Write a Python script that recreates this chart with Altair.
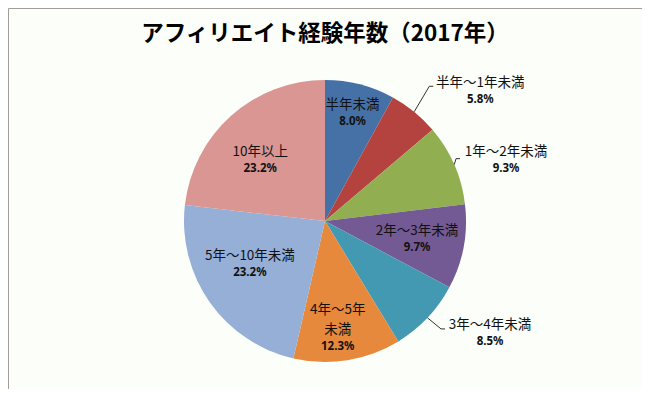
import altair as alt
import pandas as pd

# ---- data ----
CATEGORIES = ["半年未満", "半年～1年未満", "1年～2年未満", "2年～3年未満",
              "3年～4年未満", "4年～5年未満", "5年～10年未満", "10年以上"]
SHARES = [8.0, 5.8, 9.3, 9.7, 8.5, 12.3, 23.2, 23.2]
TITLE = "アフィリエイト経験年数（2017年）"

# ---- style / layout ----
COLORS = ["#4571a6", "#b4433f", "#91ae50", "#745a94", "#4399b1",
          "#e6893d", "#95afd7", "#d99693"]
LABEL_TEXT = ["半年未満", "半年～1年未満", "1年～2年未満", "2年～3年未満",
              "3年～4年未満", "4年～5年|未満", "5年～10年未満", "10年以上"]
LABEL_R = [111, 202, 191, 94, 200, 118, 87, 89]
LABEL_SHIFT = [0, 11, 5, 1, -9, 3, 5, -5]
LEADER = [0, 1, 1, 0, 1, 0, 0, 0]
LEADER_DX = [0, -51, -50, 0, -49, 0, 0, 0]
LEADER_DY = [0, -5.5, -1.5, 0, -5, 0, 0, 0]

W, H = 634, 381
CX, CY, R = 317, 213, 141

df = pd.DataFrame({
    "cat": CATEGORIES,
    "value": SHARES,
    "order": list(range(len(CATEGORIES))),
    "label": LABEL_TEXT,
    "lr": LABEL_R,
    "shift": LABEL_SHIFT,
    "leader": LEADER,
    "ldx": LEADER_DX,
    "ldy": LEADER_DY,
})

color = alt.Color("cat:N", scale=alt.Scale(domain=CATEGORIES, range=COLORS), legend=None)

pie = alt.Chart(df).mark_arc(radius=R, stroke=None).encode(
    theta=alt.Theta("value:Q", stack=True),
    order=alt.Order("order:Q"),
    color=color,
    x=alt.value(CX),
    y=alt.value(CY),
)

base = alt.Chart(df).transform_window(
    cum="sum(value)", sort=[alt.SortField("order")], frame=[None, 0]
).transform_joinaggregate(
    total="sum(value)"
).transform_calculate(
    mid="(datum.cum - datum.value/2)/datum.total*2*PI",
).transform_calculate(
    a="datum.mid + datum.shift*PI/180",
    parts="split(datum.label, '|')",
    pct="format(datum.value, '.1f') + '%'",
).transform_calculate(
    lx=f"{CX} + datum.lr*sin(datum.a)",
    ly=f"{CY} - datum.lr*cos(datum.a)",
    nl="length(datum.parts)",
    l1="datum.parts[0]",
    l2="length(datum.parts) > 1 ? datum.parts[1] : ''",
).transform_calculate(
    y1="datum.ly - 8.5 - 20*(datum.nl - 1)",
    y2="datum.ly - 8.5",
    yp="datum.ly + 8.5",
    sx=f"{CX} + {R}*sin(datum.mid)",
    sy=f"{CY} - {R}*cos(datum.mid)",
    ex="datum.lx + datum.ldx",
    ey="datum.ly + datum.ldy",
).transform_calculate(
    fx="datum.ex + 4",
)

lab_font = "Noto Sans CJK JP"
line1 = base.mark_text(font=lab_font, fontSize=13.5, color="#111111",
                       baseline="middle", align="center").encode(
    x=alt.X("lx:Q", scale=None), y=alt.Y("y1:Q", scale=None), text="l1:N")
line2 = base.mark_text(font=lab_font, fontSize=13.5, color="#111111",
                       baseline="middle", align="center").transform_filter(
    "datum.nl > 1").encode(
    x=alt.X("lx:Q", scale=None), y=alt.Y("y2:Q", scale=None), text="l2:N")
pcts = base.mark_text(font="Noto Sans", fontSize=11.5, fontWeight="bold", color="#111111",
                      baseline="middle", align="center").encode(
    x=alt.X("lx:Q", scale=None), y=alt.Y("yp:Q", scale=None), text="pct:N")

lead1 = base.mark_rule(color="#333333", strokeWidth=1).transform_filter(
    "datum.leader == 1").encode(
    x=alt.X("sx:Q", scale=None), y=alt.Y("sy:Q", scale=None),
    x2="ex:Q", y2="ey:Q")
lead2 = base.mark_rule(color="#333333", strokeWidth=1).transform_filter(
    "datum.leader == 1").encode(
    x=alt.X("ex:Q", scale=None), y=alt.Y("ey:Q", scale=None),
    x2="fx:Q", y2="ey:Q")

title = alt.Chart(pd.DataFrame({"t": [TITLE]})).mark_text(
    font="Noto Sans CJK JP", fontSize=22.5, fontWeight="bold", color="#000000",
    baseline="middle", align="center").encode(
    text="t:N", x=alt.value(CX), y=alt.value(26))

chart = alt.layer(pie, lead1, lead2, line1, line2, pcts, title).properties(
    width=W, height=H, padding=0,
    autosize=alt.AutoSizeParams(type="none"),
    background="#ffffff",
).configure_view(
    stroke="#a39d97", strokeWidth=1, fill="#fcfefa"
)

chart.save("out.html", embed_options={"renderer": "svg", "actions": False})
